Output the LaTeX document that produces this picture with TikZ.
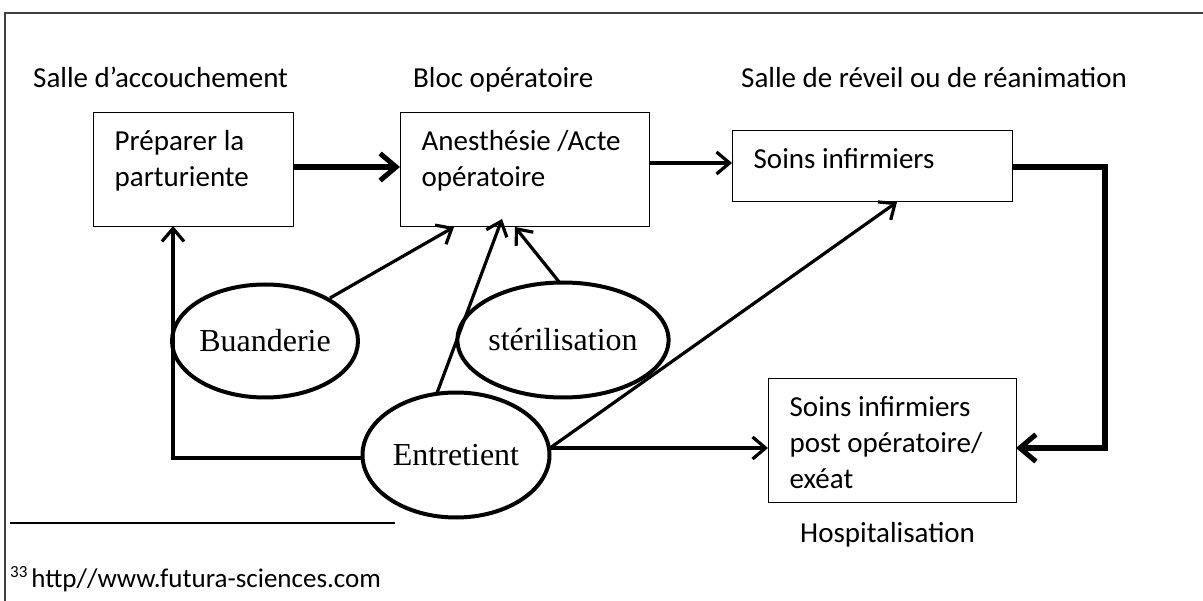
\documentclass[tikz,border=0pt]{standalone}
\usepackage{fontspec}
\setmainfont{Carlito}
\newfontfamily\timesfont{Liberation Serif}
\usetikzlibrary{arrows.meta,shapes.geometric}
\newcommand{\boxtxt}[3]{\hspace*{21pt}\parbox[c][#1][t]{#2}{\raggedright\rule{0pt}{37.5pt}#3}}
\begin{document}
\begin{tikzpicture}[x=1pt,y=-1pt,
  box/.style={draw,line width=1.3pt,inner sep=0pt,anchor=north west,font=\fontsize{29}{36}\selectfont},
  oval/.style={draw,line width=4pt,ellipse,inner sep=0pt,font=\timesfont\fontsize{32}{36}\selectfont},
  lbl/.style={anchor=base west,inner sep=0pt,font=\fontsize{29}{36}\selectfont},
  conn/.style={line width=3.2pt,-{Straight Barb[length=13pt,width=22pt,line width=3.2pt]}},
  thick conn/.style={line width=5.5pt,line join=miter,-{Straight Barb[length=16pt,width=27pt,line width=5pt]}}
]
\useasboundingbox (0,0) rectangle (1203,601);
% frame
\draw[line width=1.5pt,black!75] (5,601) -- (5,13) -- (1203,13);
% headers
\node[lbl] (h1) at (33,88) {Salle d’accouchement};
\node[lbl] (h2) at (413,88) {Bloc opératoire};
\node[lbl] (h3) at (741,88) {Salle de réveil ou de réanimation};
% boxes
\node[box,minimum width=200pt,minimum height=114pt] (b1) at (93,112) {\boxtxt{114pt}{179pt}{Préparer la\\parturiente}};
\node[box,minimum width=249pt,minimum height=114pt] (b2) at (400,112) {\boxtxt{114pt}{228pt}{Anesthésie /Acte\\opératoire}};
\node[box,minimum width=280pt,minimum height=71pt] (b3) at (732,130) {\boxtxt{71pt}{259pt}{Soins infirmiers}};
\node[box,minimum width=248pt,minimum height=124pt] (b4) at (768,378) {\boxtxt{124pt}{227pt}{Soins infirmiers\\post opératoire/\\exéat}};
\node[lbl] (hosp) at (800,543) {Hospitalisation};
% ellipses
\node[oval,minimum width=180pt,minimum height=113pt] (buan) at (265,341) {Buanderie};
\node[oval,minimum width=197pt,minimum height=115pt] (ster) at (563,340) {stérilisation};
\node[oval,minimum width=187pt,minimum height=125pt] (entr) at (456,455) {Entretient};
% coordinates
\coordinate (b1b) at (173,226);
\coordinate (c1) at (173,458);
\coordinate (e1) at (363,458);
\coordinate (b3r) at (1012,167);
\coordinate (k1) at (1105,167);
\coordinate (k2) at (1105,448);
\coordinate (b4r) at (1016,448);
% connectors
\draw[thick conn] (b1.east |- 0,167) -- (b2.west |- 0,167);
\draw[conn] (b2.east |- 0,163) -- (b3.west |- 0,163);
\draw[thick conn] (b3r) -- (k1) -- (k2) -- (b4r);
\draw[conn] (330,298) -- (454,227);
\draw[conn] (437,393) -- (502,219);
\draw[conn] (560,283) -- (515,227);
\draw[conn] (550,448) -- (897,202);
\draw[conn] (550,448) -- (b4.west |- 0,448);
\draw[conn,line join=miter] (e1) -- (c1) -- (b1b);
% footnote
\draw[line width=2pt] (10,523) -- (395,523);
\node[anchor=base west,inner sep=0pt,font=\fontsize{27}{30}\selectfont] (fn) at (10,587) {\raisebox{10pt}{\fontsize{17}{20}\selectfont 33}\hspace{4pt}http//www.futura-sciences.com};
\end{tikzpicture}
\end{document}
